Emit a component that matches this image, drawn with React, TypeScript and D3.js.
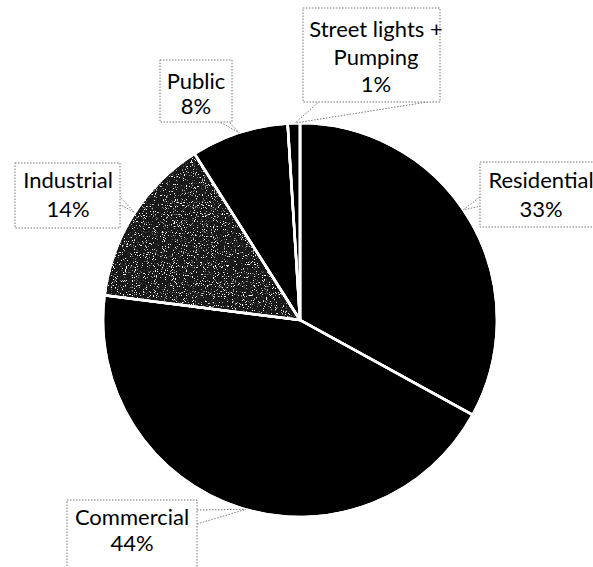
import React, { useRef, useEffect } from 'react';
import * as d3 from 'd3';

// Electricity consumption share by sector (%)
const categories = ['Residential', 'Commercial', 'Industrial', 'Public', 'Street lights + Pumping'];
const shares = [33, 44, 14, 8, 1];
const labelLines = [
  ['Residential', '33%'],
  ['Commercial', '44%'],
  ['Industrial', '14%'],
  ['Public', '8%'],
  ['Street lights +', 'Pumping', '1%'],
];

interface Slice {
  name: string;
  value: number;
}

// callout layout, keyed by category
const callouts: Record<string, { box: [number, number, number, number]; cx: number; y0: number; lh: number; from: [number, number][]; angle: number }> = {
  Residential: { box: [480, 162, 130, 65], cx: 541, y0: 188, lh: 29, from: [[481, 196], [481, 206]], angle: 56 },
  Commercial: { box: [67, 500, 130, 80], cx: 132, y0: 525, lh: 26, from: [[197, 510], [197, 524]], angle: 196 },
  Industrial: { box: [15, 163, 105, 65], cx: 68, y0: 188, lh: 29, from: [[119, 196], [119, 204]], angle: 303 },
  Public: { box: [160, 60, 72, 62], cx: 196, y0: 89, lh: 25, from: [[218, 121], [228, 121]], angle: 342 },
  'Street lights + Pumping': { box: [303, 8, 137, 94], cx: 376, y0: 37, lh: 27.5, from: [[320, 101], [440, 100]], angle: 358.5 },
};

const App: React.FC = () => {
  const svgRef = useRef<SVGSVGElement>(null);
  const width = 593;
  const height = 567;

  useEffect(() => {
    if (!svgRef.current) return;
    const svg = d3.select(svgRef.current);
    svg.selectAll('*').remove();

    const data: Slice[] = categories.map((name, i) => ({ name, value: shares[i] }));
    const cx = 300;
    const cy = 320;
    const radius = 197;

    // speckled fill for the industrial slice
    const defs = svg.append('defs');
    const filter = defs
      .append('filter')
      .attr('id', 'speckle')
      .attr('x', 0)
      .attr('y', 0)
      .attr('width', 1)
      .attr('height', 1);
    filter
      .append('feTurbulence')
      .attr('type', 'fractalNoise')
      .attr('baseFrequency', 0.9)
      .attr('numOctaves', 2)
      .attr('seed', 4)
      .attr('result', 'noise');
    filter
      .append('feColorMatrix')
      .attr('in', 'noise')
      .attr('type', 'matrix')
      .attr('values', '0 0 0 0 1  0 0 0 0 1  0 0 0 0 1  10 0 0 0 -6.1')
      .attr('result', 'dots');
    filter
      .append('feComposite')
      .attr('in', 'dots')
      .attr('in2', 'SourceGraphic')
      .attr('operator', 'in');

    const pie = d3
      .pie<Slice>()
      .sort(null)
      .value(d => d.value);
    const arc = d3.arc<d3.PieArcDatum<Slice>>().innerRadius(0).outerRadius(radius);
    const arcs = pie(data);

    const g = svg.append('g').attr('transform', `translate(${cx},${cy})`);

    g.selectAll('path.slice')
      .data(arcs)
      .enter()
      .append('path')
      .attr('class', 'slice')
      .attr('d', arc)
      .attr('fill', d => (d.data.name === 'Industrial' ? '#181818' : '#000'))
      .attr('stroke', '#fff')
      .attr('stroke-width', 2.5)
      .attr('stroke-linejoin', 'round');

    // white speckles over industrial
    g.selectAll('path.speck')
      .data(arcs.filter(d => d.data.name === 'Industrial'))
      .enter()
      .append('path')
      .attr('class', 'speck')
      .attr('d', arc)
      .attr('fill', '#fff')
      .attr('filter', 'url(#speckle)');

    // redraw separators on top
    g.selectAll('path.edge')
      .data(arcs)
      .enter()
      .append('path')
      .attr('class', 'edge')
      .attr('d', arc)
      .attr('fill', 'none')
      .attr('stroke', '#fff')
      .attr('stroke-width', 2.5);

    // callouts
    const labels = svg.append('g').attr('font-family', 'Lato, "Open Sans", sans-serif').attr('font-size', 22);
    data.forEach((d, i) => {
      const c = callouts[d.name];
      const a = (c.angle * Math.PI) / 180;
      const tx = cx + radius * Math.sin(a);
      const ty = cy - radius * Math.cos(a);

      c.from.forEach(p => {
        labels
          .append('line')
          .attr('x1', p[0])
          .attr('y1', p[1])
          .attr('x2', tx)
          .attr('y2', ty)
          .attr('stroke', '#777')
          .attr('stroke-width', 1)
          .attr('stroke-dasharray', '1.5,1.5');
      });

      labels
        .append('rect')
        .attr('x', c.box[0])
        .attr('y', c.box[1])
        .attr('width', c.box[2])
        .attr('height', c.box[3])
        .attr('fill', '#fff')
        .attr('stroke', '#777')
        .attr('stroke-width', 1)
        .attr('stroke-dasharray', '1.5,1.5');

      labelLines[i].forEach((line, j) => {
        labels
          .append('text')
          .attr('x', c.cx)
          .attr('y', c.y0 + j * c.lh)
          .attr('text-anchor', 'middle')
          .attr('fill', '#000')
          .text(line);
      });
    });
  }, []);

  return (
    <div style={{ position: 'absolute', left: 0, top: 0, width, height, background: '#fff' }}>
      <svg ref={svgRef} width={width} height={height} style={{ display: 'block' }} />
    </div>
  );
};

export default App;
